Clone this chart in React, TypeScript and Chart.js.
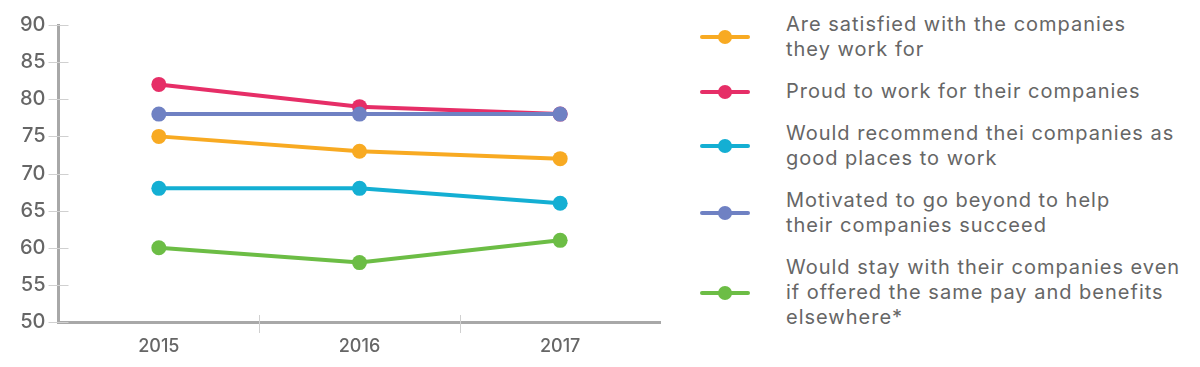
import React, { useEffect, useRef } from "react";
import { Chart, registerables } from "chart.js";

Chart.register(...registerables);

const years = ["2015", "2016", "2017"];
const satisfied = [75, 73, 72];
const proud = [82, 79, 78];
const recommend = [68, 68, 66];
const motivated = [78, 78, 78];
const stay = [60, 58, 61];

const yMin = 50;
const yMax = 90;
const yStep = 5;

const seriesLabels = [
  ["Are satisfied with the companies", "they work for"],
  ["Proud to work for their companies"],
  ["Would recommend thei companies as", "good places to work"],
  ["Motivated to go beyond to help", "their companies succeed"],
  ["Would stay with their companies even", "if offered the same pay and benefits", "elsewhere*"],
];
const seriesValues = [satisfied, proud, recommend, motivated, stay];
const seriesColors = ["#F8AA22", "#E62E67", "#14AFD3", "#6F81C3", "#6CBD45"];
const drawOrder = [1, 1, 1, 0, 1];

const FONT = "Inter, 'Open Sans', sans-serif";
const TEXT = "#666666";
const AXIS = "#a8a8a8";
const TICK = "#d0d0d0";

const crossTicks = {
  id: "crossTicks",
  beforeDatasetsDraw(chart: any) {
    const ctx = chart.ctx;
    const y = chart.scales.y;
    const x = chart.scales.x;
    const area = chart.chartArea;
    ctx.save();
    ctx.strokeStyle = TICK;
    ctx.lineWidth = 1;
    y.ticks.forEach((_t: any, i: number) => {
      const py = Math.round(y.getPixelForTick(i)) + 0.5;
      ctx.beginPath();
      ctx.moveTo(area.left - 10, py);
      ctx.lineTo(area.left + 10, py);
      ctx.stroke();
    });
    for (let i = 1; i < x.ticks.length; i++) {
      const px = Math.round((x.getPixelForTick(i - 1) + x.getPixelForTick(i)) / 2) + 0.5;
      ctx.beginPath();
      ctx.moveTo(px, area.bottom - 7);
      ctx.lineTo(px, area.bottom + 11);
      ctx.stroke();
    }
    ctx.restore();
  },
};

function LineChart() {
  const ref = useRef<HTMLCanvasElement>(null);
  useEffect(() => {
    if (!ref.current) return;
    const chart = new Chart(ref.current, {
      type: "line",
      data: {
        labels: years,
        datasets: seriesValues.map((vals, i) => ({
          label: seriesLabels[i].join(" "),
          data: vals,
          borderColor: seriesColors[i],
          backgroundColor: seriesColors[i],
          pointBackgroundColor: seriesColors[i],
          borderWidth: 4,
          pointRadius: 7.5,
          pointBorderWidth: 0,
          pointHoverRadius: 7.5,
          tension: 0,
          fill: false,
          order: drawOrder[i],
        })),
      },
      options: {
        animation: false,
        responsive: true,
        maintainAspectRatio: false,
        layout: { padding: { top: 3, right: 6, left: 0, bottom: 0 } },
        plugins: { legend: { display: false }, tooltip: { enabled: false } },
        scales: {
          x: {
            offset: true,
            grid: { display: false, offset: true },
            border: { display: true, color: AXIS, width: 3 },
            ticks: { color: TEXT, font: { family: FONT, size: 18, weight: 500 }, padding: 6 },
            afterFit: (s: any) => { s.height = 37; },
          },
          y: {
            min: yMin,
            max: yMax,
            grid: { display: false },
            border: { display: true, color: AXIS, width: 3 },
            ticks: { stepSize: yStep, color: TEXT, font: { family: FONT, size: 20, weight: 500 }, padding: 5 },
            afterFit: (s: any) => { s.width = 50.5; },
          },
        },
      },
      plugins: [crossTicks],
    });
    return () => chart.destroy();
  }, []);
  return (
    <div style={{ position: "absolute", left: 0, top: 0, width: 660, height: 351 }}>
      <canvas ref={ref} />
    </div>
  );
}

export default function App() {
  return (
    <div style={{ position: "relative", width: 1184, height: 351, fontFamily: FONT }}>
      <LineChart />
      <div style={{ position: "absolute", left: 692, top: 4, width: 510 }}>
        {seriesLabels.map((lines, i) => (
          <div key={i} style={{ display: "flex", alignItems: "center", marginBottom: 17 }}>
            <div style={{ position: "relative", width: 50, height: 16, flex: "none", marginRight: 36 }}>
              <div style={{ position: "absolute", left: 0, top: 6, width: 50, height: 4, borderRadius: 2, background: seriesColors[i] }} />
              <div style={{ position: "absolute", left: 18, top: 1, width: 14, height: 14, borderRadius: 7, background: seriesColors[i] }} />
            </div>
            <div style={{ color: TEXT, fontSize: 20, lineHeight: "25px", letterSpacing: "1px", whiteSpace: "nowrap" }}>
              {lines.map((l, j) => (
                <div key={j}>{l}</div>
              ))}
            </div>
          </div>
        ))}
      </div>
    </div>
  );
}
